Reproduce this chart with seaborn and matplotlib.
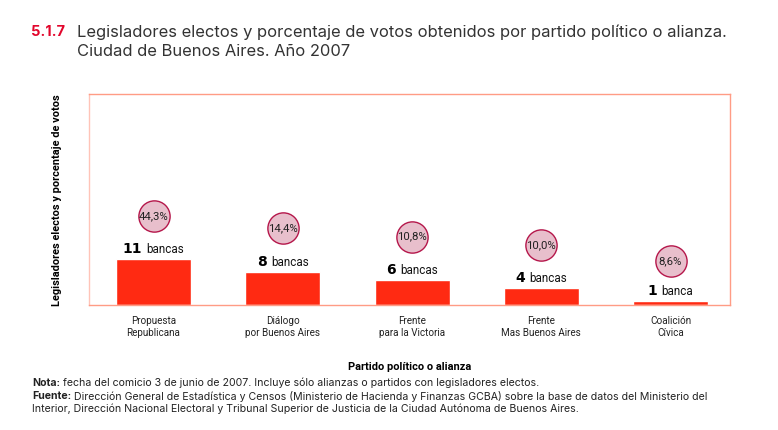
import matplotlib
matplotlib.use("Agg")
import matplotlib.pyplot as plt
import matplotlib.transforms as mtrans
import pandas as pd
import seaborn as sns

partidos = ["Propuesta\nRepublicana", "Diálogo\npor Buenos Aires", "Frente\npara la Victoria",
            "Frente\nMas Buenos Aires", "Coalición\nCívica"]
bancas = [11, 8, 6, 4, 1]
votos = ["44,3%", "14,4%", "10,8%", "10,0%", "8,6%"]
unidad = ["bancas", "bancas", "bancas", "bancas", "banca"]

W, H = 778, 430
ROJO = "#FF2A12"
BORDE = "#FF9C85"
TEXTO = "Inter"
NARROW = ["Liberation Sans Narrow", "Roboto"]

sns.set_theme(style="white")
fig = plt.figure(figsize=(W / 100, H / 100), dpi=100)
ax = fig.add_axes([88.5 / W, 1 - 305 / H, 641.5 / W, 211 / H])

df = pd.DataFrame({"partido": partidos, "bancas": bancas})
sns.barplot(data=df, x="partido", y="bancas", color=ROJO, saturation=1, width=0.58, ax=ax)
ax.set_xlim(-0.503, 4.46)
ax.set_ylim(0, 50.8)
ax.set_yticks([])
ax.set_xlabel("")
ax.set_ylabel("")
ax.tick_params(axis="x", length=0, pad=8)
for lab in ax.get_xticklabels():
    lab.set_fontfamily(NARROW)
    lab.set_fontsize(7.1)
    lab.set_color("#222222")
for s in ax.spines.values():
    s.set_color(BORDE)
    s.set_linewidth(1)
ax.spines["left"].set_color("#FFC4B8")

renderer = fig.canvas.get_renderer()
for i, (b, v, u) in enumerate(zip(bancas, votos, unidad)):
    # numero en negrita + unidad, centrados sobre la barra
    off_txt = mtrans.Affine2D().translate(0, 3)
    t1 = ax.text(i, b, str(b), fontfamily="DejaVu Sans", fontweight="bold", fontsize=10,
                 color="black", ha="left", va="bottom", transform=ax.transData + off_txt)
    t2 = ax.text(i, b, u, fontfamily=NARROW, fontsize=8.4, color="#111111",
                 ha="left", va="bottom", transform=ax.transData + off_txt)
    w1 = t1.get_window_extent(renderer).width
    w2 = t2.get_window_extent(renderer).width
    total = w1 + 4 + w2
    t1.set_transform(ax.transData + off_txt + mtrans.Affine2D().translate(-total / 2, 0))
    t2.set_transform(ax.transData + off_txt + mtrans.Affine2D().translate(-total / 2 + w1 + 4, 0))

    # circulo con el porcentaje de votos
    dy = 39.5 if i == 4 else 43.5
    off_c = mtrans.Affine2D().translate(0, dy)
    ax.plot([i], [b], marker="o", ms=22.5, mfc="#E8BFCC", mec="#B5174B", mew=1,
            transform=ax.transData + off_c, clip_on=False, zorder=4)
    ax.text(i, b, v, fontfamily=NARROW, fontsize=8.2, color="#222222", ha="center", va="center",
            transform=ax.transData + off_c, zorder=5)


def px(x, y):
    return x / W, 1 - y / H


fig.text(*px(31, 32), "5.1.7", family=TEXTO, fontweight="bold", fontsize=10.5,
         color="#E2062C", va="center")
fig.text(*px(77, 32), "Legisladores electos y porcentaje de votos obtenidos por partido político o alianza.",
         family=TEXTO, fontsize=11.93, color="#333333", va="center")
fig.text(*px(77, 51), "Ciudad de Buenos Aires. Año 2007", family=TEXTO, fontsize=11.93,
         color="#333333", va="center")

fig.text(*px(57, 200), "Legisladores electos y porcentaje de votos", family=NARROW, fontweight="bold",
         fontsize=7.9, color="black", rotation=90, ha="center", va="center")
fig.text(*px(410, 367), "Partido político o alianza", family=NARROW, fontweight="bold", fontsize=7.95,
         color="black", ha="center", va="center")

nota = [
    (383, "Nota:", "fecha del comicio 3 de junio de 2007. Incluye sólo alianzas o partidos con legisladores electos."),
    (396, "Fuente:", "Dirección General de Estadística y Censos (Ministerio de Hacienda y Finanzas GCBA) sobre la base de datos del Ministerio del"),
]
for y, head, body in nota:
    t = fig.text(*px(32, y), head, family=TEXTO, fontweight="bold", fontsize=7.6,
                 color="#222222", va="center")
    w = t.get_window_extent(renderer).width
    fig.text(*px(32 + w + 3, y), body, family=TEXTO, fontsize=7.6, color="#222222", va="center")
fig.text(*px(32, 409), "Interior, Dirección Nacional Electoral y Tribunal Superior de Justicia de la Ciudad Autónoma de Buenos Aires.",
         family=TEXTO, fontsize=7.6, color="#222222", va="center")

fig.savefig("out.png", dpi=100, facecolor="white")
